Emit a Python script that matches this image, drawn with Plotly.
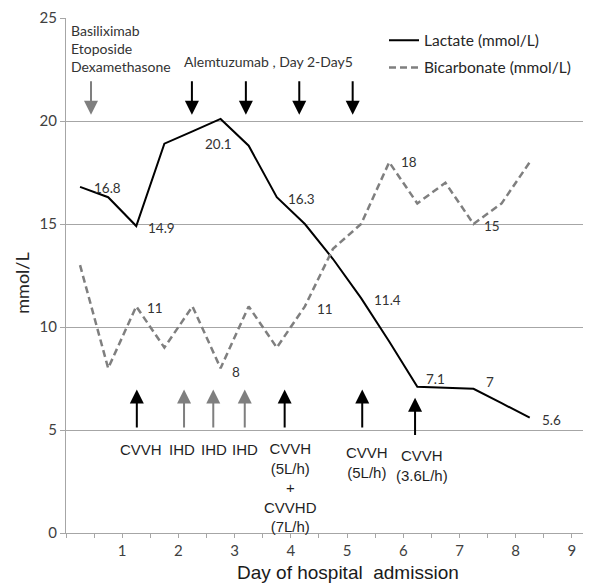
import plotly.graph_objects as go

# ---- data ----
x_days = [0.25, 0.75, 1.25, 1.75, 2.25, 2.75, 3.25, 3.75, 4.25, 4.75,
          5.25, 5.75, 6.25, 6.75, 7.25, 7.75, 8.25]
lactate = [16.8, 16.3, 14.9, 18.9, 19.5, 20.1, 18.8, 16.3, 15.0, 13.3,
           11.4, 9.3, 7.1, 7.05, 7.0, 6.3, 5.6]
bicarbonate = [13, 8, 11, 9, 11, 8, 11, 9, 11, 13.8,
               15, 18, 16, 17, 15, 16, 18]
x_tick_labels = ["1", "2", "3", "4", "5", "6", "7", "8", "9"]

# labelled points: (index, xshift, yshift)
lactate_labels = [(0, 27, -1), (2, 25, -2), (5, -2, -25), (7, 25, -2),
                  (10, 26, -2), (12, 18, 8), (14, 16, 7), (16, 22, -2)]
bicarb_labels = [(2, 19, -2), (5, 15, -4), (8, 20, -3), (11, 20, 0), (14, 18, -2)]

# treatment arrows
top_arrow_x = [0.445, 2.24, 3.2, 4.15, 5.1]
top_arrow_col = ["#7f7f7f", "black", "black", "black", "black"]
bottom_arrow_x = [1.26, 2.1, 2.62, 3.18, 3.89, 5.27, 6.21]
bottom_arrow_col = ["black", "#7f7f7f", "#7f7f7f", "#7f7f7f", "black", "black", "black"]
bottom_labels = [
    (1.33, 4.04, "CVVH"),
    (2.06, 4.04, "IHD"),
    (2.63, 4.04, "IHD"),
    (3.19, 4.04, "IHD"),
    (3.99, 2.22, "CVVH<br>(5L/h)<br>+<br>CVVHD<br>(7L/h)"),
    (5.36, 3.41, "CVVH<br>(5L/h)"),
    (6.34, 3.27, "CVVH<br>(3.6L/h)"),
]

CAL = "Lato, Open Sans, sans-serif"
ARI = "Liberation Sans, Arial, sans-serif"

fig = go.Figure()
fig.add_trace(go.Scatter(x=x_days, y=lactate, mode="lines", name="Lactate (mmol/L)",
                         line=dict(color="black", width=2), legendgroup="a"))
fig.add_trace(go.Scatter(x=x_days, y=bicarbonate, mode="lines", name="Bicarbonate (mmol/L)",
                         line=dict(color="#7f7f7f", width=2.5, dash="7px,4px"), legendgroup="b"))

ann = []
for i, dx, dy in lactate_labels:
    ann.append(dict(x=x_days[i], y=lactate[i], text=f"{lactate[i]:g}", showarrow=False,
                    xshift=dx, yshift=dy, font=dict(family=CAL, size=13.5, color="#333333")))
for i, dx, dy in bicarb_labels:
    ann.append(dict(x=x_days[i], y=bicarbonate[i], text=f"{bicarbonate[i]:g}", showarrow=False,
                    xshift=dx, yshift=dy, font=dict(family=CAL, size=13.5, color="#333333")))

for xa, c in zip(top_arrow_x, top_arrow_col):
    ann.append(dict(x=xa, y=20.3, ax=xa, ay=22.0, axref="x", ayref="y", text="",
                    showarrow=True, arrowhead=2, arrowsize=1.4, arrowwidth=2,
                    arrowcolor=c, standoff=0, startstandoff=0))
for k, (xa, c) in enumerate(zip(bottom_arrow_x, bottom_arrow_col)):
    tip, tail = (6.96, 5.05) if k < 6 else (6.57, 4.68)
    ann.append(dict(x=xa, y=tip, ax=xa, ay=tail, axref="x", ayref="y", text="",
                    showarrow=True, arrowhead=2, arrowsize=1.4, arrowwidth=2,
                    arrowcolor=c, standoff=0, startstandoff=0))
for xa, ya, t in bottom_labels:
    ann.append(dict(x=xa, y=ya, text=t, showarrow=False, align="center",
                    font=dict(family=ARI, size=15, color="#1f1f1f")))

ann.append(dict(x=(69 - 66) / 525, y=(533.3 - 20) / 515, xref="paper", yref="paper",
                xanchor="left", yanchor="top", align="left", showarrow=False,
                text="Basiliximab<br>Etoposide<br>Dexamethasone",
                font=dict(family=CAL, size=14, color="#333333")))
ann.append(dict(x=(182 - 66) / 525, y=(533.3 - 62) / 515, xref="paper", yref="paper",
                xanchor="left", yanchor="middle", showarrow=False,
                text="Alemtuzumab , Day 2-Day5",
                font=dict(family=CAL, size=14, color="#333333")))
ann.append(dict(x=(348 - 66) / 525, y=(533.3 - 573) / 515, xref="paper", yref="paper",
                xanchor="center", yanchor="middle", showarrow=False,
                text="Day of hospital  admission",
                font=dict(family=ARI, size=19, color="#1a1a1a")))
ann.append(dict(x=(22 - 66) / 525, y=(533.3 - 284) / 515, xref="paper", yref="paper",
                xanchor="center", yanchor="middle", showarrow=False, textangle=-90,
                text="mmol/L", font=dict(family=CAL, size=18, color="#262626")))

tickvals = [v * 0.5 for v in range(0, 19)]
ticktext = [str(int(v)) if (v == int(v) and v > 0) else "" for v in tickvals]

# page body has an 8px margin, so the figure is 8px smaller and margins reduced
fig.update_layout(
    width=583, height=577,
    margin=dict(l=58, r=0, t=10, b=52),
    paper_bgcolor="white", plot_bgcolor="white",
    showlegend=True,
    legend=dict(x=(384 - 66) / 525, y=(533.3 - 24) / 515, xanchor="left", yanchor="top",
                bgcolor="rgba(0,0,0,0)", font=dict(family=CAL, size=15.5, color="#262626"),
                tracegroupgap=4, itemwidth=30, traceorder="grouped"),
    xaxis=dict(range=[0, 9.34], tickvals=tickvals, ticktext=ticktext,
               showgrid=False, zeroline=False, showline=True, linecolor="#a6a6a6",
               ticks="outside", ticklen=4, tickcolor="#a6a6a6",
               tickfont=dict(family=CAL, size=15, color="#404040")),
    yaxis=dict(range=[0, 25], dtick=5, showgrid=True, gridcolor="#a6a6a6", gridwidth=1,
               zeroline=False, showline=True, linecolor="#a6a6a6",
               ticks="outside", ticklen=5, tickcolor="#a6a6a6",
               tickfont=dict(family=CAL, size=15, color="#404040")),
    annotations=ann,
)

fig.write_html("out.html")
